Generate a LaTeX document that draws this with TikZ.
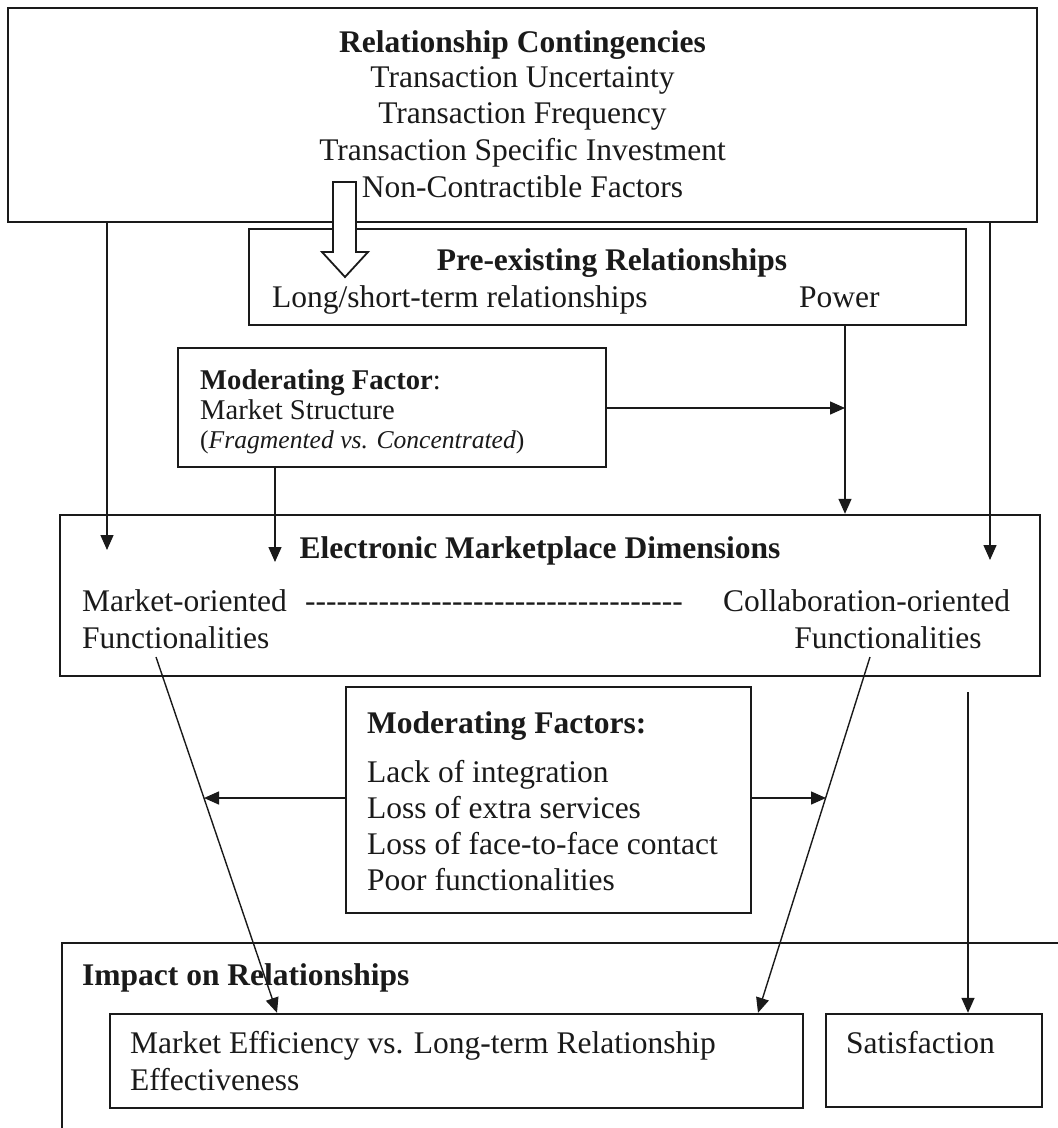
\documentclass[tikz,border=0pt]{standalone}
\usepackage{fontspec}
\setmainfont{Liberation Serif}
\usetikzlibrary{arrows.meta}
\definecolor{ink}{HTML}{1A1A1A}
% a single hyphen that never joins with its neighbour into a dash
\newcommand{\hy}{-\kern0pt}
\newcommand{\hyten}{\hy\hy\hy\hy\hy\hy\hy\hy\hy\hy}
\begin{document}
\begin{tikzpicture}[x=1pt,y=-1pt,
  box/.style={draw=ink,line width=2.4pt,inner sep=0pt,rectangle},
  body/.style={inner sep=0pt,text=ink,font=\fontsize{31.5}{36}\selectfont},
  bold/.style={inner sep=0pt,text=ink,font=\fontsize{31.5}{36}\selectfont\bfseries},
  note/.style={inner sep=0pt,text=ink,font=\fontsize{28.6}{30}\selectfont},
  link/.style={draw=ink,line width=1.4pt,-{Triangle[length=15pt,width=13pt]}},
  hollow/.style={draw=ink,line width=1.8pt,fill=white,line join=miter}]

\useasboundingbox (0,0) rectangle (1058,1128);
\fill[white] (0,0) rectangle (1058,1128);

% ---- boxes ----
\node[box,minimum width=1029pt,minimum height=214pt] (rc)  at (522.5,115) {};
\node[box,minimum width=717pt, minimum height=96pt]  (pe)  at (607.5,277) {};
\node[box,minimum width=428pt, minimum height=119pt] (mf)  at (392,407.5) {};
\node[box,minimum width=980pt, minimum height=161pt] (el)  at (550,595.5) {};
\node[box,minimum width=405pt, minimum height=226pt] (mfs) at (548.5,800) {};
\node[box,minimum width=693pt, minimum height=94pt]  (me)  at (456.5,1061) {};
\node[box,minimum width=216pt, minimum height=93pt]  (sat) at (934,1060.5) {};
% impact frame runs past the lower and right edges
\draw[draw=ink,line width=2.4pt] (62,1128) -- (62,943) -- (1058,943);

% ---- relationship contingencies ----
\node[bold,anchor=base] (rcT) at (522.5,52) {Relationship Contingencies};
\node[body,anchor=base] (rc1) at (522.5,87) {Transaction Uncertainty};
\node[body,anchor=base] (rc2) at (522.5,123) {Transaction Frequency};
\node[body,anchor=base] (rc3) at (522.5,160) {Transaction Specific Investment};
\node[body,anchor=base] (rc4) at (522.5,197) {Non-Contractible Factors};

% ---- pre-existing relationships ----
\node[bold,anchor=base] (peT) at (612,270) {Pre-existing Relationships};
\node[body,anchor=base west] (pe1) at (272,307) {Long/short-term relationships};
\node[body,anchor=base west] (pe2) at (799,307) {Power};

% ---- moderating factor: market structure ----
\node[note,anchor=base west] (mfT) at (200,389) {\textbf{Moderating Factor}:};
\node[note,anchor=base west] (mf1) at (200,419) {Market Structure};
\node[inner sep=0pt,text=ink,font=\fontsize{25.6}{30}\selectfont,anchor=base west] (mf2) at (200,448) {(\textit{Fragmented vs. Concentrated})};

% ---- electronic marketplace dimensions ----
\node[bold,anchor=base] (elT) at (540,558) {Electronic Marketplace Dimensions};
\node[body,anchor=base west] (el1) at (82,611) {Market-oriented};
\node[body,anchor=base west] (el2) at (82,648) {Functionalities};
\node[body,anchor=base west] (elD) at (305,611) {\hyten\hyten\hyten\hy\hy\hy\hy\hy\hy};
\node[body,anchor=base west] (el3) at (723,611) {Collaboration-oriented};
\node[body,anchor=base] (el4) at (888,648) {Functionalities};

% ---- moderating factors ----
\node[bold,anchor=base west] (mfsT) at (367,733) {Moderating Factors:};
\node[body,anchor=base west] (mfs1) at (367,782) {Lack of integration};
\node[body,anchor=base west] (mfs2) at (367,818) {Loss of extra services};
\node[body,anchor=base west] (mfs3) at (367,854) {Loss of face-to-face contact};
\node[body,anchor=base west] (mfs4) at (367,890) {Poor functionalities};

% ---- impact on relationships ----
\node[bold,anchor=base west] (imT) at (82,985) {Impact on Relationships};
\node[body,anchor=base west] (me1) at (130,1053) {Market Efficiency vs. Long-term Relationship};
\node[body,anchor=base west] (me2) at (130,1090) {Effectiveness};
\node[body,anchor=base west] (sat1) at (846,1053) {Satisfaction};

% ---- hollow block arrow into the pre-existing relationships ----
\draw[hollow] (333,182) -- (356,182) -- (356,252) -- (368,252) -- (345,277)
  -- (322,252) -- (333,252) -- cycle;

% ---- connectors ----
\coordinate (tipL) at (107,550);
\coordinate (tipR) at (990,560);
\coordinate (pw)   at (845,0);
\coordinate (join) at (845,408);
\coordinate (msT)  at (275,562);
\draw[link] (rc.south -| tipL) -- (tipL);
\draw[link] (rc.south -| tipR) -- (tipR);
\draw[link] (pe.south -| pw) -- (el.north -| pw);
\draw[link] (mf.east |- join) -- (join);
\draw[link] (mf.south -| msT) -- (msT);

\coordinate (moS) at (156,657);
\coordinate (coS) at (870,657);
\coordinate (meL) at (277,0);
\coordinate (meR) at (758,0);
\coordinate (saS) at (968,692);
\draw[link] (moS) -- (me.north -| meL);
\draw[link] (coS) -- (me.north -| meR);
\draw[link] (saS) -- (sat.north -| saS);

\coordinate (hitL) at (204,798);
\coordinate (hitR) at (826,798);
\draw[link] (mfs.west |- hitL) -- (hitL);
\draw[link] (mfs.east |- hitR) -- (hitR);
\end{tikzpicture}
\end{document}
